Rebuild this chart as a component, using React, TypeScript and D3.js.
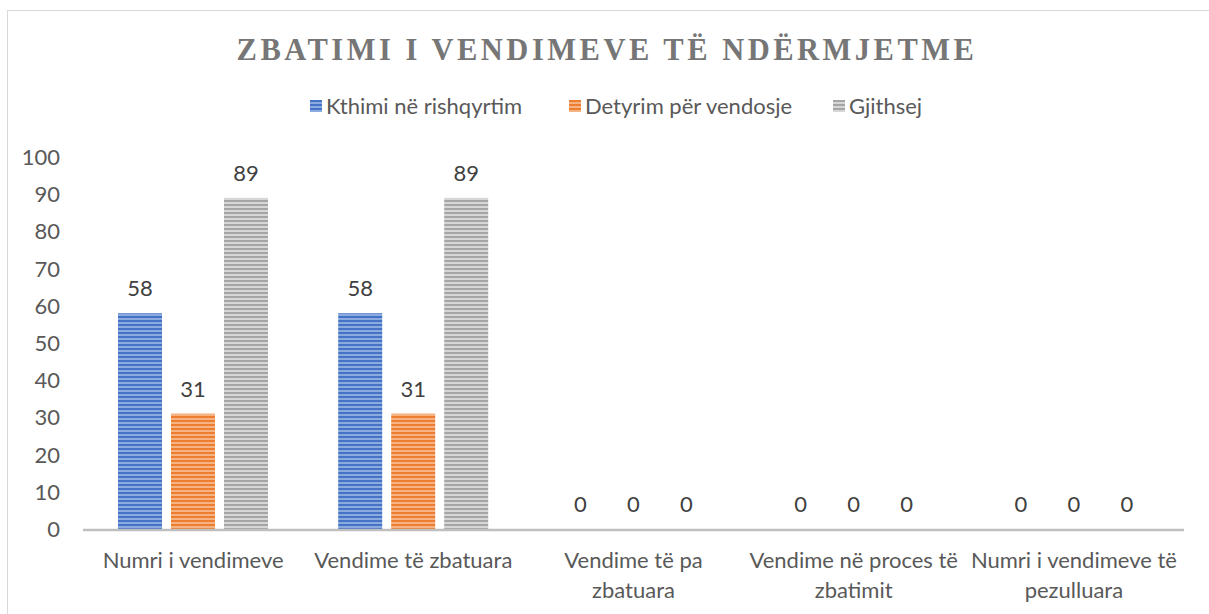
import * as d3 from "d3";

const W = 1209;
const H = 614;

const categories = [
  ["Numri i vendimeve"],
  ["Vendime të zbatuara"],
  ["Vendime të pa", "zbatuara"],
  ["Vendime në proces të", "zbatimit"],
  ["Numri i vendimeve të", "pezulluara"],
];
const seriesNames = ["Kthimi në rishqyrtim", "Detyrim për vendosje", "Gjithsej"];
const kthimi = [58, 58, 0, 0, 0];
const detyrim = [31, 31, 0, 0, 0];
const gjithsej = [89, 89, 0, 0, 0];
const yTicks = [0, 10, 20, 30, 40, 50, 60, 70, 80, 90, 100];

const seriesValues = [kthimi, detyrim, gjithsej];
const colors = [
  { base: "#8aaae0", dark: "#4472c4" },
  { base: "#f5b283", dark: "#ed7d31" },
  { base: "#d6d6d6", dark: "#a5a5a5" },
];

const plotLeft = 83;
const plotRight = 1184;
const plotTop = 157;
const plotBottom = 529;

const font = "Lato, 'Open Sans', sans-serif";
const textColor = "#595959";
const fs = 22;

export default function App() {
  const x0 = d3
    .scaleBand<number>()
    .domain(categories.map((_, i) => i))
    .range([plotLeft, plotRight]);
  const x1 = d3
    .scaleBand<number>()
    .domain(seriesNames.map((_, i) => i))
    .range([35, 185])
    .paddingInner(0.17);
  const y = d3.scaleLinear().domain([0, 100]).range([plotBottom, plotTop]);

  return (
    <svg
      width={W}
      height={H}
      style={{ position: "absolute", left: 0, top: 0, background: "#fff" }}
    >
      <defs>
        {colors.map((c, i) => (
          <pattern
            key={i}
            id={"stripe" + i}
            width={8}
            height={4}
            patternUnits="userSpaceOnUse"
          >
            <rect width={8} height={4} fill={c.base} />
            <rect y={0} width={8} height={2} fill={c.dark} />
          </pattern>
        ))}
      </defs>
      <rect x={7.5} y={10.5} width={1220} height={640} fill="none" stroke="#d9d9d9" />

      <text
        x={607}
        y={60}
        textAnchor="middle"
        fontFamily="'Liberation Serif', 'Times New Roman', serif"
        fontWeight="bold"
        fontSize={30.5}
        letterSpacing={3.5}
        fill="#767676"
      >
        ZBATIMI I VENDIMEVE TË NDËRMJETME
      </text>

      {seriesNames.map((name, i) => {
        const lx = [310, 569, 833][i];
        return (
          <g key={name}>
            <rect x={lx} y={100} width={12} height={12} fill={`url(#stripe${i})`} />
            <text x={lx + 16} y={114} fontFamily={font} fontSize={fs} fill={textColor}>
              {name}
            </text>
          </g>
        );
      })}

      {yTicks.map((t) => (
        <text
          key={t}
          x={60}
          y={y(t) + 8}
          textAnchor="end"
          fontFamily={font}
          fontSize={fs}
          fill={textColor}
        >
          {t}
        </text>
      ))}

      {categories.map((lines, ci) => (
        <g key={ci} transform={`translate(${x0(ci)},0)`}>
          {seriesValues.map((vals, si) => {
            const v = vals[ci];
            const bx = x1(si)!;
            return (
              <g key={si}>
                {v > 0 && (
                  <rect
                    x={bx}
                    y={y(v)}
                    width={x1.bandwidth()}
                    height={plotBottom - y(v)}
                    fill={`url(#stripe${si})`}
                  />
                )}
                <text
                  x={bx + x1.bandwidth() / 2}
                  y={y(v) - 17}
                  textAnchor="middle"
                  fontFamily={font}
                  fontSize={fs}
                  fill="#404040"
                >
                  {v}
                </text>
              </g>
            );
          })}
          {lines.map((ln, li) => (
            <text
              key={li}
              x={x0.bandwidth() / 2}
              y={568 + li * 30}
              textAnchor="middle"
              fontFamily={font}
              fontSize={fs}
              fill={textColor}
            >
              {ln}
            </text>
          ))}
        </g>
      ))}

      <line
        x1={plotLeft}
        x2={plotRight}
        y1={plotBottom + 1}
        y2={plotBottom + 1}
        stroke="#bfbfbf"
        strokeWidth={2.5}
      />
    </svg>
  );
}
